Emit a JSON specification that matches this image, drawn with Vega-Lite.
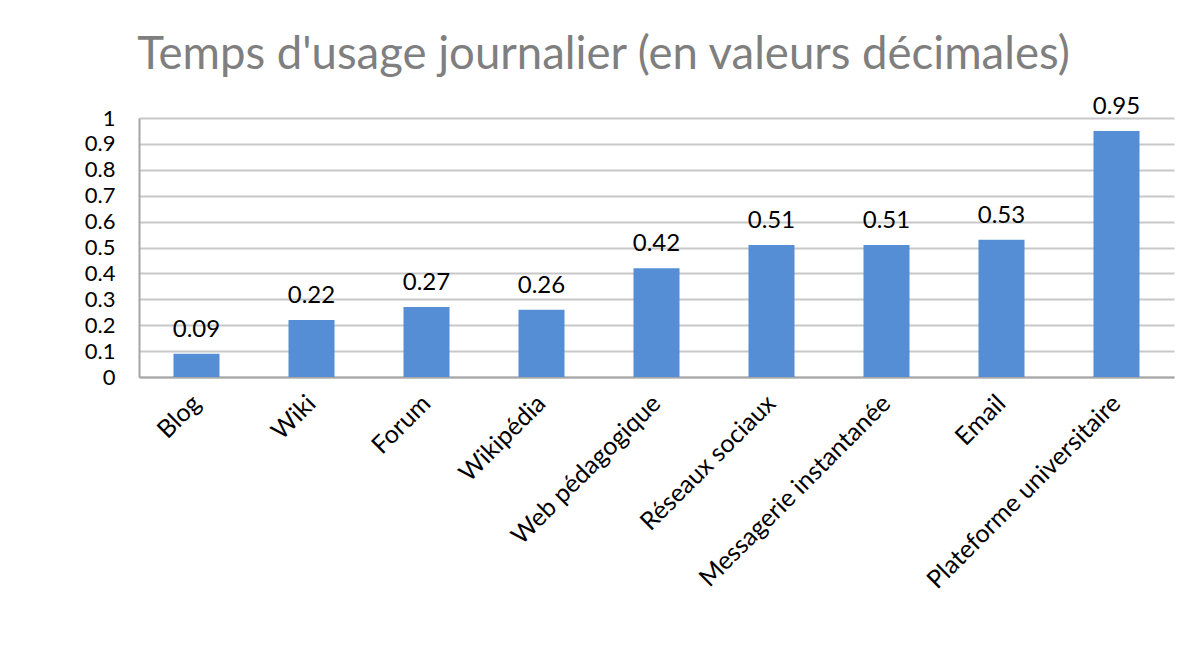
{
  "$schema": "https://vega.github.io/schema/vega-lite/v6.json",
  "autosize": {"type": "none"},
  "width": 1035,
  "height": 259,
  "padding": {"left": 139, "top": 118, "right": 23, "bottom": 295},
  "background": "white",
  "title": {
    "text": "Temps d'usage journalier (en valeurs décimales)",
    "font": "Lato",
    "fontSize": 45.5,
    "fontWeight": "normal",
    "color": "#7f7f7f",
    "anchor": "middle",
    "frame": "group",
    "dx": -53,
    "offset": 16
  },
  "data": {
    "values": [
      {"outil": "Blog", "valeur": 0.09},
      {"outil": "Wiki", "valeur": 0.22},
      {"outil": "Forum", "valeur": 0.27},
      {"outil": "Wikipédia", "valeur": 0.26},
      {"outil": "Web pédagogique", "valeur": 0.42},
      {"outil": "Réseaux sociaux", "valeur": 0.51},
      {"outil": "Messagerie instantanée", "valeur": 0.51},
      {"outil": "Email", "valeur": 0.53},
      {"outil": "Plateforme universitaire", "valeur": 0.95}
    ]
  },
  "encoding": {
    "x": {
      "field": "outil",
      "type": "nominal",
      "sort": null,
      "scale": {"paddingInner": 0.6, "paddingOuter": 0.3},
      "axis": {
        "title": null,
        "labelAngle": -45,
        "labelAlign": "right",
        "labelBaseline": "middle",
        "labelFont": "Lato",
        "labelFontSize": 25,
        "labelColor": "#000000",
        "labelPadding": 22,
        "ticks": false,
        "domainColor": "#a6a6a6",
        "domainWidth": 2,
        "labelLimit": 400
      }
    },
    "y": {
      "field": "valeur",
      "type": "quantitative",
      "scale": {"domain": [0, 1], "nice": false},
      "axis": {
        "title": null,
        "values": [0, 0.1, 0.2, 0.3, 0.4, 0.5, 0.6, 0.7, 0.8, 0.9, 1],
        "format": "~g",
        "labelFont": "Lato",
        "labelFontSize": 22,
        "labelColor": "#000000",
        "labelPadding": 24,
        "ticks": false,
        "domain": true,
        "domainColor": "#a6a6a6",
        "domainWidth": 2,
        "grid": true,
        "gridColor": "#c8c8c8",
        "gridWidth": 2
      }
    }
  },
  "layer": [
    {"mark": {"type": "bar", "color": "#558ed5"}},
    {
      "mark": {"type": "text", "baseline": "bottom", "dy": -12, "font": "Lato", "fontSize": 24, "color": "#000000"},
      "encoding": {"text": {"field": "valeur", "type": "quantitative", "format": ".2f"}}
    }
  ],
  "config": {"view": {"stroke": null}}
}
